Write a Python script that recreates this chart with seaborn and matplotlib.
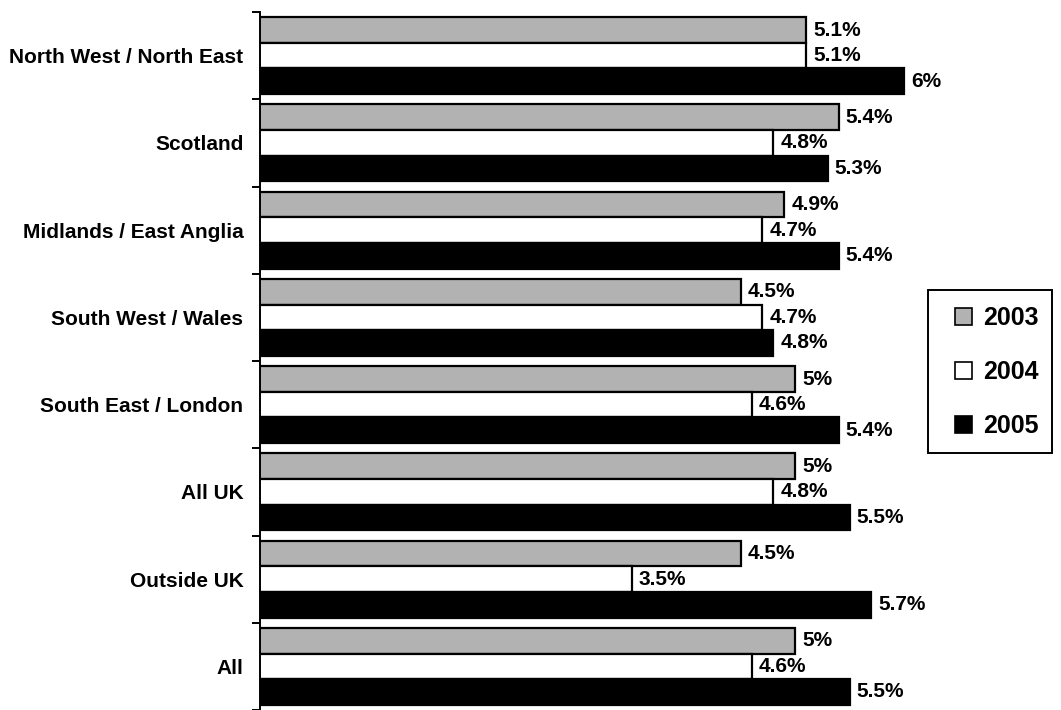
import matplotlib
matplotlib.use("Agg")
import matplotlib.pyplot as plt
import seaborn as sns
import pandas as pd
from matplotlib.patches import Patch, Rectangle
from matplotlib.ticker import FixedLocator

regions = ["North West / North East", "Scotland", "Midlands / East Anglia",
           "South West / Wales", "South East / London", "All UK", "Outside UK", "All"]
years = ["2003", "2004", "2005"]
v2003 = [5.1, 5.4, 4.9, 4.5, 5.0, 5.0, 4.5, 5.0]
v2004 = [5.1, 4.8, 4.7, 4.7, 4.6, 4.8, 3.5, 4.6]
v2005 = [6.0, 5.3, 5.4, 4.8, 5.4, 5.5, 5.7, 5.5]
colors = ["#b2b2b2", "#ffffff", "#000000"]

rows = []
for yr, vals in zip(years, [v2003, v2004, v2005]):
    for reg, v in zip(regions, vals):
        rows.append({"region": reg, "year": yr, "value": v})
df = pd.DataFrame(rows)

sns.set_theme(style="white")
plt.rcParams["font.family"] = ["Liberation Sans", "DejaVu Sans"]
plt.rcParams["font.weight"] = "bold"
plt.rcParams["text.color"] = "black"
plt.rcParams["ytick.labelcolor"] = "black"

W, H = 1061, 710
fig = plt.figure(figsize=(W / 100, H / 100), dpi=100)
ax = fig.add_axes([260 / W, 0.0, 801 / W, 698 / H])

sns.barplot(data=df, y="region", x="value", hue="year", order=regions,
            hue_order=years, palette=colors, orient="h", width=0.88,
            edgecolor="black", linewidth=1.6, ax=ax, legend=False)

for cont in ax.containers:
    ax.bar_label(cont, labels=[f"{v:g}%" for v in cont.datavalues],
                 padding=5, fontsize=15, fontweight="bold", color="black")

ax.set_xlim(0.09, 0.09 + 801 / 109)
ax.set_ylim(len(regions) - 0.5, -0.5)
ax.set_xlabel("")
ax.set_ylabel("")
ax.set_xticks([])
for s in ["top", "right", "bottom"]:
    ax.spines[s].set_visible(False)
ax.spines["left"].set_color("black")
ax.spines["left"].set_linewidth(1.4)

ax.tick_params(axis="y", which="major", length=0, pad=12, labelsize=15,
               labelcolor="black")
for lbl in ax.get_yticklabels():
    lbl.set_fontweight("bold")
ax.yaxis.set_minor_locator(FixedLocator([i - 0.5 for i in range(len(regions) + 1)]))
ax.tick_params(axis="y", which="minor", left=True, length=6, width=1.4, color="black")

# legend box drawn as a plain frame, entries placed inside it
fig.patches.append(Rectangle((928 / W, 1 - 453 / H), 124 / W, 163 / H,
                             transform=fig.transFigure, facecolor="white",
                             edgecolor="black", linewidth=1.4, zorder=5))
handles = [Patch(facecolor=c, edgecolor="black", linewidth=1.2) for c in colors]
leg = fig.legend(handles, years, loc="upper left",
                 bbox_to_anchor=(955 / W, 1 - 306 / H),
                 frameon=False, prop={"size": 18, "weight": "bold"},
                 handlelength=0.68, handleheight=0.68, handletextpad=0.45,
                 labelspacing=1.2, borderpad=0, borderaxespad=0)
leg.set_zorder(6)

fig.savefig("out.png", dpi=100)
